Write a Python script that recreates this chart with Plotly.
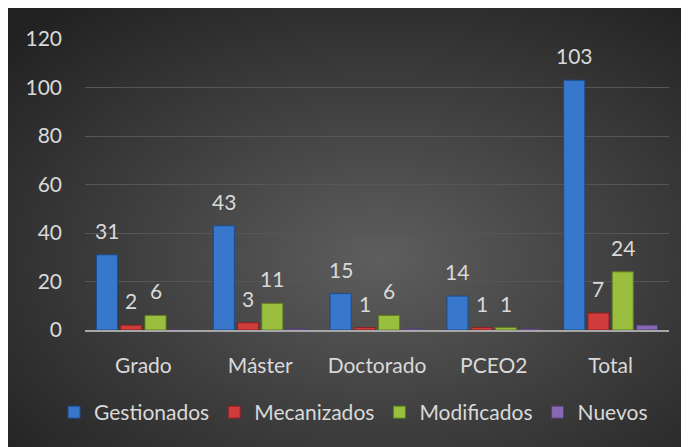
import base64
import plotly.graph_objects as go

categories = ["Grado", "Máster", "Doctorado", "PCEO2", "Total"]
series_names = ["Gestionados", "Mecanizados", "Modificados", "Nuevos"]
gestionados = [31, 43, 15, 14, 103]
mecanizados = [2, 3, 1, 1, 7]
modificados = [6, 11, 6, 1, 24]
nuevos = [0, 0.4, 0.4, 0.4, 2]
show_labels = [True, True, True, False]
y_ticks = [0, 20, 40, 60, 80, 100, 120]

colors = ["#3778cc", "#d03c3c", "#9abf3e", "#8768b2"]
edge = ["#1d4c8a", "#8a2222", "#5f7c22", "#533e78"]

BARGAP = 0.17
BARGROUPGAP = 0.13
FONT = "Lato"
FS = 21
TXT = "#d9d9d9"

all_series = [gestionados, mecanizados, modificados, nuevos]

fig = go.Figure()
for name, vals, c, e in zip(series_names, all_series, colors, edge):
    fig.add_trace(go.Bar(
        x=categories, y=vals, name=name,
        marker=dict(color=c, line=dict(color=e, width=1)),
    ))

# data labels above bars (offset computed from the grouped-bar layout)
n = len(all_series)
slot = (1 - BARGAP) / n
annotations = []
for i, (vals, show) in enumerate(zip(all_series, show_labels)):
    if not show:
        continue
    off = -(1 - BARGAP) / 2 + slot * (i + 0.5)
    for j, v in enumerate(vals):
        annotations.append(dict(
            x=j + off, y=v, xref="x", yref="y", text=str(v),
            showarrow=False, yanchor="bottom", yshift=10,
            font=dict(family=FONT, size=FS, color=TXT),
        ))

W, H = 689, 447
L, R, T, B = 77, 28, 31, 125
PW, PH = W - L - R, H - T - B

svg = f"""<svg xmlns='http://www.w3.org/2000/svg' width='{W}' height='{H}'>
<defs><radialGradient id='g' cx='0.54' cy='0.56' r='0.72'>
<stop offset='0' stop-color='#5e5e5e'/>
<stop offset='0.5' stop-color='#3f3f3f'/>
<stop offset='1' stop-color='#222222'/>
</radialGradient></defs>
<rect x='0' y='0' width='{W}' height='{H}' rx='3' fill='url(#g)'/></svg>"""
src = "data:image/svg+xml;base64," + base64.b64encode(svg.encode()).decode()

fig.update_layout(
    width=W, height=H,
    paper_bgcolor="#2a2a2a", plot_bgcolor="rgba(0,0,0,0)",
    margin=dict(l=L, r=R, t=T, b=B, pad=0, autoexpand=False),
    barmode="group", bargap=BARGAP, bargroupgap=BARGROUPGAP,
    font=dict(family=FONT, size=FS, color=TXT),
    showlegend=True,
    legend=dict(orientation="h", x=-0.053, xanchor="left", y=-0.213, yanchor="top",
                font=dict(family=FONT, size=FS, color=TXT), itemwidth=30,
                bgcolor="rgba(0,0,0,0)", traceorder="normal"),
    annotations=annotations,
    images=[dict(source=src, xref="paper", yref="paper",
                 x=-L / PW, y=1 + T / PH, sizex=W / PW, sizey=H / PH,
                 xanchor="left", yanchor="top", sizing="stretch", layer="below")],
    xaxis=dict(showgrid=False, showline=True, linecolor="#a6a6a6", linewidth=2,
               ticks="", tickfont=dict(family=FONT, size=FS, color=TXT),
               ticklabelstandoff=16, fixedrange=True),
    yaxis=dict(range=[0, 120], tickvals=y_ticks, showgrid=True,
               gridcolor="#565656", gridwidth=1, zeroline=False, showline=False,
               tickfont=dict(family=FONT, size=FS, color=TXT),
               ticklabelstandoff=22, fixedrange=True),
)

fig.write_html("out.html")
